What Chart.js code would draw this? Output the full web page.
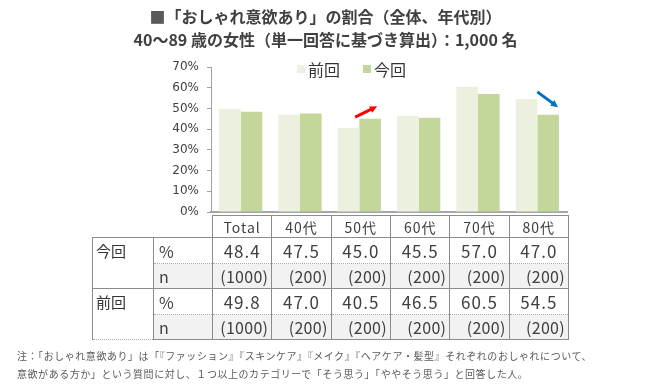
<!DOCTYPE html>
<html lang="ja">
<head>
<meta charset="utf-8">
<script src="https://cdn.jsdelivr.net/npm/chart.js@4/dist/chart.umd.min.js"></script>
<style>
  html, body { margin: 0; padding: 0; background: #fff; }
  #wrap { position: relative; width: 651px; height: 386px; overflow: hidden; font-family: "Noto Sans CJK JP", "Noto Sans", sans-serif; color: #404040; }
  #c { position: absolute; left: 0; top: 0; }
  #title { position: absolute; left: 0; top: 5px; width: 651px; text-align: center; font-weight: bold; font-size: 16px; line-height: 23px; color: #404040; }
  #title .sq { color: #595959; }
  #legend { position: absolute; left: 297px; top: 57px; display: flex; align-items: center; font-size: 16px; color: #333; }
  #legend .box { width: 8px; height: 8px; display: inline-block; margin-right: 3px; }
  #legend .item { display: flex; align-items: center; margin-right: 23px; }
  #tbl { position: absolute; left: 92px; top: 215px; border-collapse: collapse; table-layout: fixed; color: #404040; }
  #tbl td { border: 1px solid #8c8c8c; padding: 0; white-space: nowrap; overflow: hidden; }
  #tbl td.blank { border: none; }
  #tbl tr.head td { height: 21px; text-align: center; font-size: 14px; letter-spacing: 1px; }
  #tbl tr.pct td { height: 24px; font-size: 17px; letter-spacing: 1px; text-align: center; border-bottom: 1px dotted #aaa; }
  #tbl tr.cnt td { height: 24px; font-size: 16px; letter-spacing: 0.3px; text-align: right; padding-right: 3px; background: #f2f2f2; border-top: 1px dotted #aaa; }
  #tbl tr td.grp { background: #fff; text-align: left; padding-left: 3px; font-size: 15px; vertical-align: top; padding-top: 2px; letter-spacing: 0; color: #333; }
  #tbl tr td.unit { text-align: left; padding-left: 5px; font-size: 16px; letter-spacing: 0; }
  #note { position: absolute; left: 17px; top: 347px; font-size: 10px; line-height: 18px; letter-spacing: 0.55px; color: #595959; white-space: nowrap; }
</style>
</head>
<body>
<div id="wrap">
  <canvas id="c" width="651" height="386"></canvas>
  <div id="title"><span class="sq">■</span>「おしゃれ意欲あり」の割合（全体、年代別）<br>40～89 歳の女性（単一回答に基づき算出）：1,000 名</div>
  <div id="legend"></div>
  <table id="tbl"></table>
  <div id="note">注：「おしゃれ意欲あり」は「『ファッション』『スキンケア』『メイク』『ヘアケア・髪型』それぞれのおしゃれについて、<br>意欲がある方か」という質問に対し、１つ以上のカテゴリーで「そう思う」「ややそう思う」と回答した人。</div>
</div>
<script>
const categories = ['Total', '40代', '50代', '60代', '70代', '80代'];
const seriesNames = ['前回', '今回'];
const previousPct = [49.8, 47.0, 40.5, 46.5, 60.5, 54.5];
const currentPct = [48.4, 47.5, 45.0, 45.5, 57.0, 47.0];
const previousN = [1000, 200, 200, 200, 200, 200];
const currentN = [1000, 200, 200, 200, 200, 200];
const yTicks = [0, 10, 20, 30, 40, 50, 60, 70];

const colors = ['#EBF1DE', '#C4D79B'];

// legend
const legend = document.getElementById('legend');
seriesNames.forEach((name, i) => {
    const item = document.createElement('span');
    item.className = 'item';
    item.innerHTML = '<span class="box" style="background:' + colors[i] + '"></span>' + name;
    legend.appendChild(item);
});

// table under the chart
const tbl = document.getElementById('tbl');
const colW = [61, 59].concat(categories.map(() => 59.33));
const cg = document.createElement('colgroup');
colW.forEach(w => { const c = document.createElement('col'); c.style.width = w + 'px'; cg.appendChild(c); });
tbl.appendChild(cg);

let html = '<tr class="head"><td class="blank"></td><td class="blank"></td>' +
    categories.map(c => '<td>' + c + '</td>').join('') + '</tr>';
const groups = [
    { name: '今回', pct: currentPct, n: currentN },
    { name: '前回', pct: previousPct, n: previousN }
];
groups.forEach(g => {
    html += '<tr class="pct"><td class="grp" rowspan="2">' + g.name + '</td><td class="unit">%</td>' +
        g.pct.map(v => '<td>' + v.toFixed(1) + '</td>').join('') + '</tr>';
    html += '<tr class="cnt"><td class="unit">n</td>' +
        g.n.map(v => '<td>(' + v + ')</td>').join('') + '</tr>';
});
tbl.innerHTML += html;

// trend arrows (category index, value level at start/end)
const arrowPlugin = {
    id: 'arrows',
    afterDatasetsDraw(chart) {
        const x = chart.scales.x, y = chart.scales.y;
        const step = (x.right - x.left) / categories.length;
        const arrows = [
            { idx: 2, from: [-0.07, 45.8], to: [0.3, 51], color: '#FF0000' },
            { idx: 5, from: [0.0, 58], to: [0.35, 50.6], color: '#0070C0' }
        ];
        const ctx = chart.ctx;
        arrows.forEach(a => {
            const cx = x.getPixelForValue(a.idx);
            const x1 = cx + a.from[0] * step, y1 = y.getPixelForValue(a.from[1]);
            const x2 = cx + a.to[0] * step, y2 = y.getPixelForValue(a.to[1]);
            const ang = Math.atan2(y2 - y1, x2 - x1);
            const hl = 8;
            ctx.save();
            ctx.strokeStyle = a.color;
            ctx.fillStyle = a.color;
            ctx.lineWidth = 3;
            ctx.beginPath();
            ctx.moveTo(x1, y1);
            ctx.lineTo(x2 - Math.cos(ang) * hl * 0.8, y2 - Math.sin(ang) * hl * 0.8);
            ctx.stroke();
            ctx.beginPath();
            ctx.moveTo(x2, y2);
            ctx.lineTo(x2 - hl * Math.cos(ang - 0.45), y2 - hl * Math.sin(ang - 0.45));
            ctx.lineTo(x2 - hl * Math.cos(ang + 0.45), y2 - hl * Math.sin(ang + 0.45));
            ctx.closePath();
            ctx.fill();
            ctx.restore();
        });
    }
};

const ctx = document.getElementById('c').getContext('2d');
const chart = new Chart(ctx, {
    type: 'bar',
    data: {
        labels: categories,
        datasets: [
            { label: seriesNames[0], data: previousPct, backgroundColor: colors[0] },
            { label: seriesNames[1], data: currentPct, backgroundColor: colors[1] }
        ]
    },
    options: {
        responsive: false,
        animation: false,
        devicePixelRatio: 1,
        categoryPercentage: 0.73,
        barPercentage: 1.0,
        layout: { padding: { left: 151, top: 67, right: 84, bottom: 174 } },
        plugins: { legend: { display: false }, tooltip: { enabled: false } },
        scales: {
            x: {
                grid: { display: false },
                ticks: { display: false },
                border: { color: '#A6A6A6', width: 2 },
                afterFit: s => { s.height = 0; }
            },
            y: {
                min: 0,
                max: 70,
                afterBuildTicks: s => { s.ticks = yTicks.map(v => ({ value: v })); },
                ticks: {
                    padding: 8,
                    color: '#404040',
                    font: { family: 'DejaVu Sans', size: 12 },
                    callback: v => v + '%'
                },
                grid: { drawOnChartArea: false, drawTicks: true, tickLength: 4, color: '#A0A0A0' },
                border: { color: '#A0A0A0', width: 1 },
                afterFit: s => { s.width = 60; }
            }
        }
    },
    plugins: [arrowPlugin]
});
</script>
</body>
</html>
